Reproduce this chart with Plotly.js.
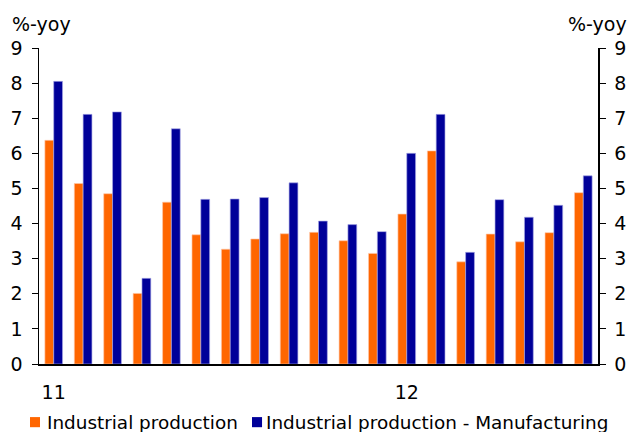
<!DOCTYPE html>
<html>
<head>
<meta charset="utf-8">
<script src="https://cdn.plot.ly/plotly-3.0.1.min.js"></script>
<style>html,body{margin:0;padding:0;background:#fff;}#chart{width:630px;height:432px;}</style>
</head>
<body>
<div id="chart"></div>
<script>
const months = ["Jan 11","Feb 11","Mar 11","Apr 11","May 11","Jun 11","Jul 11","Aug 11","Sep 11","Oct 11","Nov 11","Dec 11","Jan 12","Feb 12","Mar 12","Apr 12","May 12","Jun 12","Jul 12"];
const industrialProduction = [6.37,5.14,4.85,2.01,4.61,3.68,3.27,3.56,3.71,3.75,3.51,3.15,4.27,6.07,2.91,3.70,3.48,3.74,4.88];
const manufacturing = [8.05,7.11,7.18,2.44,6.70,4.69,4.70,4.74,5.16,4.07,3.97,3.77,6.00,7.11,3.18,4.68,4.18,4.52,5.36];
const seriesNames = ["Industrial production", "Industrial production - Manufacturing"];
const seriesColors = ["#FF6600", "#000099"];
const xTickVals = ["Jan 11","Jan 12"];
const xTickText = ["11","12"];
const yTicks = [0,1,2,3,4,5,6,7,8,9];

const font = {family: "DejaVu Sans, Verdana, sans-serif", size: 19, color: "#000"};
const data = [
  {type: "bar", name: seriesNames[0], x: months, y: industrialProduction,
   marker: {color: seriesColors[0], line: {color: "rgba(255,200,170,0.8)", width: 0.8}}},
  {type: "bar", name: seriesNames[1], x: months, y: manufacturing,
   marker: {color: seriesColors[1], line: {color: "rgba(170,170,230,0.8)", width: 0.8}}},
  {type: "bar", x: months, y: manufacturing.map(() => null), yaxis: "y2", showlegend: false, hoverinfo: "skip"}
];

// legend drawn as shapes + annotations (paper coordinates)
const legendSquares = [[-0.0161, 0.0018], [0.381, 0.399]];
const legendTextX = [0.0125, 0.4043];
const shapes = legendSquares.map((s, i) => ({
  type: "rect", xref: "paper", yref: "paper", x0: s[0], x1: s[1], y0: -0.2, y1: -0.168,
  fillcolor: seriesColors[i], line: {width: 0}
}));
const legendAnns = seriesNames.map((n, i) => ({
  text: n, xref: "paper", yref: "paper", x: legendTextX[i], y: -0.184, xanchor: "left", yanchor: "middle",
  showarrow: false, borderpad: 0, font: {size: 18.4}
}));

const layout = {
  width: 630, height: 432,
  margin: {l: 39, r: 32, t: 48, b: 68},
  paper_bgcolor: "#fff", plot_bgcolor: "#fff",
  font: font,
  barmode: "group", bargap: 0.4, bargroupgap: 0,
  showlegend: false,
  xaxis: {type: "category", tickvals: xTickVals, ticktext: xTickText, ticks: "",
          ticklabelstandoff: 11, showline: true, linecolor: "#000", linewidth: 1.5,
          showgrid: false, zeroline: false, tickfont: {size: 19}, automargin: false},
  yaxis: {range: [0, 9], tickvals: yTicks, ticks: "outside", ticklen: 6, tickcolor: "#000",
          ticklabelstandoff: 5, automargin: false,
          showline: true, linecolor: "#000", linewidth: 1.5, showgrid: false, zeroline: false,
          tickfont: {size: 19}},
  yaxis2: {range: [0, 9], tickvals: yTicks, overlaying: "y", side: "right", ticks: "outside", ticklen: 6,
           ticklabelstandoff: 5, automargin: false,
           tickcolor: "#000", showline: true, linecolor: "#000", linewidth: 1.5, showgrid: false,
           zeroline: false, tickfont: {size: 19}},
  shapes: shapes,
  annotations: [
    {text: "%-yoy", xref: "paper", yref: "paper", x: -0.052, y: 1.035, xanchor: "left", yanchor: "bottom",
     showarrow: false, font: {size: 19}},
    {text: "%-yoy", xref: "paper", yref: "paper", x: 1.055, y: 1.035, xanchor: "right", yanchor: "bottom",
     showarrow: false, font: {size: 19}}
  ].concat(legendAnns)
};
Plotly.newPlot("chart", data, layout, {staticPlot: true});
</script>
</body>
</html>
